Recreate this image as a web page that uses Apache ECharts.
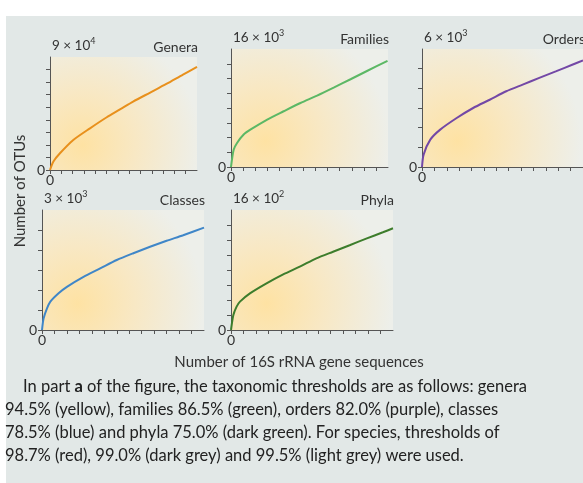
<!DOCTYPE html>
<html><head><meta charset="utf-8">
<script src="https://cdn.jsdelivr.net/npm/echarts@6/dist/echarts.min.js"></script>
<style>html,body{margin:0;padding:0;background:#fff;}#c{width:583px;height:483px;}</style>
</head><body><div id="c"></div>
<script>
// Panel names and axis scale labels
const panelNames = ['Genera', 'Families', 'Orders', 'Classes', 'Phyla'];
const scaleBase = ['9 × 10', '16 × 10', '6 × 10', '3 × 10', '16 × 10'];
const scaleExp = ['4', '3', '3', '3', '2'];
const yMax = [9, 16, 6, 3, 16];
const yStep = [1, 2, 1, 0.5, 2];
const xMax = 13;
const colors = ['#e8901c', '#5cb865', '#7348a6', '#3f86c8', '#3d7d2c'];

// Curve values (x in tick units of sequences, y in panel scale units)
const xGenera = [0, 0.29, 0.88, 2.06, 3.54, 5.02, 6.19, 7.35, 8.82, 10.29, 11.76, 13];
const yGenera = [0, 0.66, 1.33, 2.39, 3.32, 4.2, 4.82, 5.45, 6.15, 6.85, 7.6, 8.21];
const xFamilies = [0, 0.22, 0.5, 1.05, 1.6, 3.0, 4.36, 5.75, 7.13, 8.5, 9.9, 11.3, 12.96];
const yFamilies = [0, 2.34, 3.26, 4.4, 5.06, 6.44, 7.56, 8.68, 9.68, 10.76, 11.9, 13.05, 14.4];
const xOrders = [0, 0.13, 0.67, 1.47, 2.8, 4.13, 5.47, 6.8, 8.13, 9.47, 10.8, 12.13, 13];
const yOrders = [0, 0.63, 1.39, 1.9, 2.49, 3.0, 3.42, 3.85, 4.19, 4.53, 4.86, 5.2, 5.42];
const xClasses = [0, 0.13, 0.4, 0.67, 1.33, 2.0, 3.33, 4.67, 6.0, 7.33, 8.67, 10.0, 11.33, 13];
const yClasses = [0, 0.29, 0.54, 0.71, 0.92, 1.08, 1.33, 1.54, 1.75, 1.92, 2.08, 2.23, 2.37, 2.56];
const xPhyla = [0, 0.19, 0.45, 0.72, 1.52, 2.85, 4.19, 5.52, 6.85, 8.19, 9.52, 10.85, 12.19, 13];
const yPhyla = [0, 2.0, 3.12, 3.78, 4.88, 6.22, 7.42, 8.44, 9.56, 10.44, 11.3, 12.18, 13.03, 13.56];

const xs = [xGenera, xFamilies, xOrders, xClasses, xPhyla];
const ys = [yGenera, yFamilies, yOrders, yClasses, yPhyla];

const axisTitleY = 'Number of OTUs';
const axisTitleX = 'Number of 16S rRNA gene sequences';
const captionLines = [
  ['In part ', 'a', ' of the figure, the taxonomic thresholds are as follows: genera'],
  '94.5% (yellow), families 86.5% (green), orders 82.0% (purple), classes',
  '78.5% (blue) and phyla 75.0% (dark green). For species, thresholds of',
  '98.7% (red), 99.0% (dark grey) and 99.5% (light grey) were used.'
];

// layout
const grids = [
  {left: 50, top: 57, width: 147, height: 113},
  {left: 231, top: 49, width: 157, height: 118},
  {left: 422, top: 49, width: 162, height: 118},
  {left: 42, top: 210, width: 162, height: 120},
  {left: 231, top: 210, width: 162, height: 120}
];
const FONT = 'Lato, "Open Sans", sans-serif';
const bgGrad = new echarts.graphic.RadialGradient(0.22, 0.78, 1.05, [
  {offset: 0, color: '#fee2a3'},
  {offset: 0.45, color: '#f8e8c4'},
  {offset: 1, color: '#edefea'}
]);

const option = {
  animation: false,
  backgroundColor: '#ffffff',
  grid: grids.map(g => Object.assign({show: true, backgroundColor: bgGrad, borderWidth: 0}, g)),
  xAxis: grids.map((g, i) => ({
    type: 'value', gridIndex: i, min: 0, max: xMax, interval: 1,
    axisLine: {onZero: false, lineStyle: {color: '#555', width: 1}},
    axisTick: {length: 4, lineStyle: {color: '#555'}},
    splitLine: {show: false},
    axisLabel: {formatter: v => v === 0 ? '0' : '', color: '#333', fontFamily: FONT, fontSize: 14, margin: 3, showMaxLabel: false}
  })),
  yAxis: grids.map((g, i) => ({
    type: 'value', gridIndex: i, min: 0, max: yMax[i], interval: yStep[i],
    axisLine: {show: true, onZero: false, lineStyle: {color: '#555', width: 1}},
    axisTick: {show: true, length: 4, lineStyle: {color: '#555'}},
    splitLine: {show: false},
    axisLabel: {formatter: v => v === 0 ? '0' : '', color: '#333', fontFamily: FONT, fontSize: 14, margin: 5, showMaxLabel: false}
  })),
  series: xs.map((xa, i) => ({
    type: 'line', xAxisIndex: i, yAxisIndex: i, smooth: 0.25, symbol: 'none',
    lineStyle: {color: colors[i], width: 2},
    data: xa.map((x, k) => [x, ys[i][k]])
  })),
  graphic: []
};

// outer panel background
option.graphic.push({type: 'rect', z: -10, shape: {x: 6, y: 16, width: 600, height: 480}, style: {fill: '#e2e8e7'}, silent: true});

// panel labels
grids.forEach((g, i) => {
  option.graphic.push({
    type: 'text', x: g.left + 2, y: g.top - 3,
    style: {
      text: '{b|' + scaleBase[i] + '}{s|' + scaleExp[i] + '}',
      verticalAlign: 'bottom', align: 'left',
      rich: {
        b: {fontFamily: FONT, fontSize: 13.5, fill: '#333', color: '#333'},
        s: {fontFamily: FONT, fontSize: 9, fill: '#333', color: '#333', verticalAlign: 'top', padding: [0, 0, 8, 0]}
      }
    }
  });
  option.graphic.push({
    type: 'text', x: g.left + g.width + 1, y: g.top - 3,
    style: {text: panelNames[i], fontFamily: FONT, fontSize: 14, fill: '#333', align: 'right', verticalAlign: 'bottom'}
  });
});

// axis titles
option.graphic.push({
  type: 'text', x: 20, y: 191, rotation: Math.PI / 2,
  style: {text: axisTitleY, fontFamily: FONT, fontSize: 15, fill: '#333', align: 'center', verticalAlign: 'middle'}
});
option.graphic.push({
  type: 'text', x: 299, y: 362,
  style: {text: axisTitleX, fontFamily: FONT, fontSize: 15, fill: '#333', align: 'center', verticalAlign: 'middle'}
});

// caption
const capY = [387, 410, 433, 456];
captionLines.forEach((ln, i) => {
  let txt, x;
  if (Array.isArray(ln)) {
    txt = '{n|' + ln[0] + '}{bd|' + ln[1] + '}{n|' + ln[2] + '}';
    x = 23;
  } else {
    txt = '{n|' + ln + '}';
    x = 5;
  }
  option.graphic.push({
    type: 'text', x: x, y: capY[i],
    style: {
      text: txt, verticalAlign: 'middle', align: 'left',
      rich: {
        n: {fontFamily: FONT, fontSize: 16.5, fill: '#222', color: '#222'},
        bd: {fontFamily: FONT, fontSize: 16.5, fontWeight: 'bold', fill: '#222', color: '#222'}
      }
    }
  });
});

const chart = echarts.init(document.getElementById('c'), null, {renderer: 'canvas'});
chart.setOption(option);
</script></body></html>
